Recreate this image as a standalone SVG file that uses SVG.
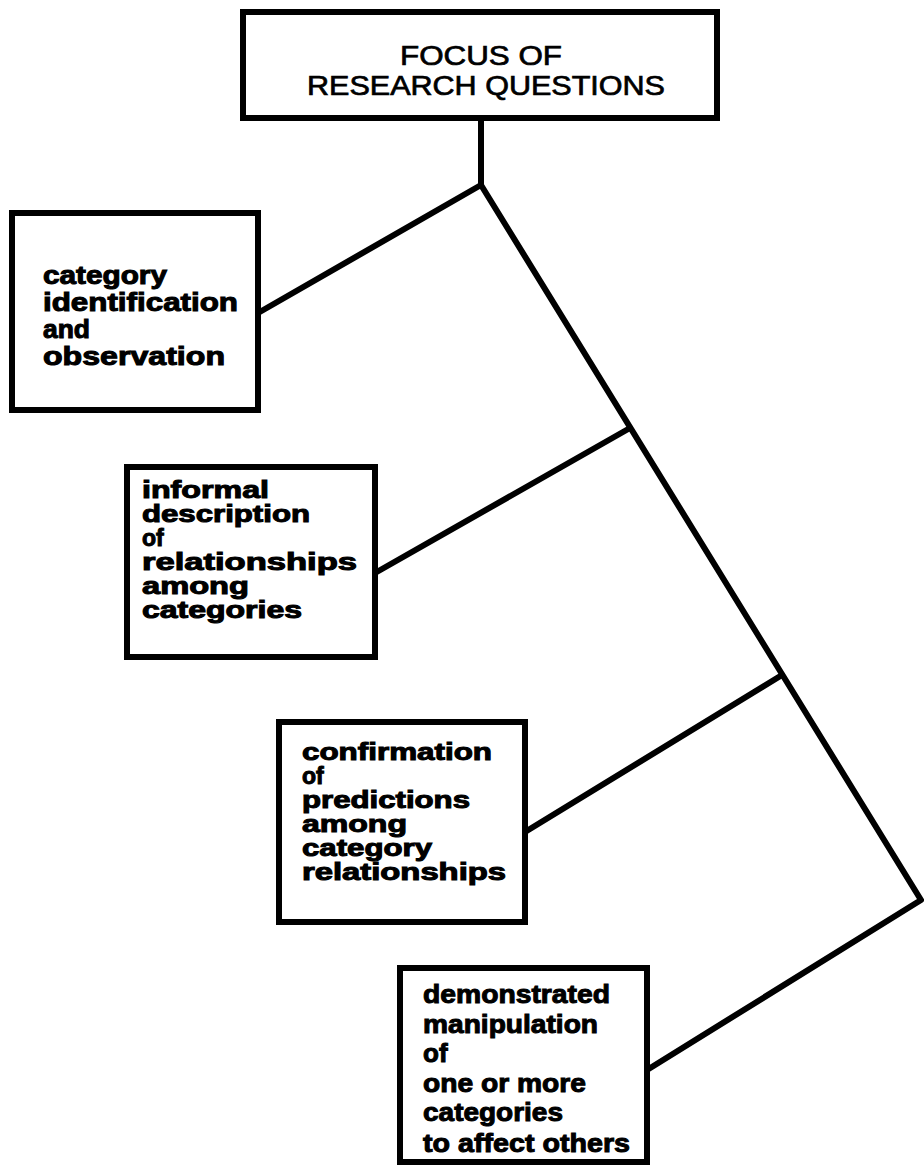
<svg xmlns="http://www.w3.org/2000/svg" width="924" height="1167" viewBox="0 0 924 1167">
<style>
.box{fill:#fff;stroke:#000;stroke-width:6}
.ln{stroke:#000;stroke-width:6;fill:none;stroke-linecap:round;stroke-linejoin:round}
.t{font-family:"Liberation Sans",Arial,sans-serif;font-weight:bold;fill:#000;stroke:#000;stroke-width:1}
.title{font-family:"Liberation Sans",Arial,sans-serif;font-size:27px;fill:#000;stroke:#000;stroke-width:0.7}
</style>
<rect width="924" height="1167" fill="#fff"/>
<g id="connectors">
<polyline class="ln" points="481,118 481,185 921,900 647,1070"/>
<line class="ln" x1="258" y1="313" x2="481" y2="185"/>
<line class="ln" x1="375" y1="573" x2="630" y2="428"/>
<line class="ln" x1="525" y1="832" x2="782" y2="675"/>
</g>
<g id="focus">
<rect class="box" x="243" y="12" width="474" height="106"/>
<text class="title" x="400" y="65" textLength="162" lengthAdjust="spacingAndGlyphs">FOCUS OF</text>
<text class="title" x="307" y="95" textLength="358" lengthAdjust="spacingAndGlyphs">RESEARCH QUESTIONS</text>
</g>
<g id="n1">
<rect class="box" x="12" y="213" width="246" height="197"/>
<g class="t" font-size="25">
<text x="43" y="284" textLength="124" lengthAdjust="spacingAndGlyphs">category</text>
<text x="43" y="311" textLength="195" lengthAdjust="spacingAndGlyphs">identification</text>
<text x="43" y="338" textLength="47" lengthAdjust="spacingAndGlyphs">and</text>
<text x="43" y="365" textLength="182" lengthAdjust="spacingAndGlyphs">observation</text>
</g>
</g>
<g id="n2">
<rect class="box" x="127" y="467" width="248" height="190"/>
<g class="t" font-size="23">
<text x="142" y="498" textLength="127" lengthAdjust="spacingAndGlyphs">informal</text>
<text x="142" y="522" textLength="168" lengthAdjust="spacingAndGlyphs">description</text>
<text x="142" y="546">of</text>
<text x="142" y="570" textLength="215" lengthAdjust="spacingAndGlyphs">relationships</text>
<text x="142" y="594" textLength="107" lengthAdjust="spacingAndGlyphs">among</text>
<text x="142" y="618" textLength="160" lengthAdjust="spacingAndGlyphs">categories</text>
</g>
</g>
<g id="n3">
<rect class="box" x="279" y="722" width="246" height="200"/>
<g class="t" font-size="23">
<text x="302" y="760" textLength="190" lengthAdjust="spacingAndGlyphs">confirmation</text>
<text x="302" y="784">of</text>
<text x="302" y="808" textLength="168" lengthAdjust="spacingAndGlyphs">predictions</text>
<text x="302" y="832" textLength="105" lengthAdjust="spacingAndGlyphs">among</text>
<text x="302" y="856" textLength="130" lengthAdjust="spacingAndGlyphs">category</text>
<text x="302" y="880" textLength="204" lengthAdjust="spacingAndGlyphs">relationships</text>
</g>
</g>
<g id="n4">
<rect class="box" x="400" y="968" width="247" height="194"/>
<g class="t" font-size="26">
<text x="423" y="1003" textLength="187" lengthAdjust="spacingAndGlyphs">demonstrated</text>
<text x="423" y="1033" textLength="175" lengthAdjust="spacingAndGlyphs">manipulation</text>
<text x="423" y="1062">of</text>
<text x="423" y="1092" textLength="163" lengthAdjust="spacingAndGlyphs">one or more</text>
<text x="423" y="1121" textLength="140" lengthAdjust="spacingAndGlyphs">categories</text>
<text x="423" y="1152" textLength="207" lengthAdjust="spacingAndGlyphs">to affect others</text>
</g>
</g>
</svg>
